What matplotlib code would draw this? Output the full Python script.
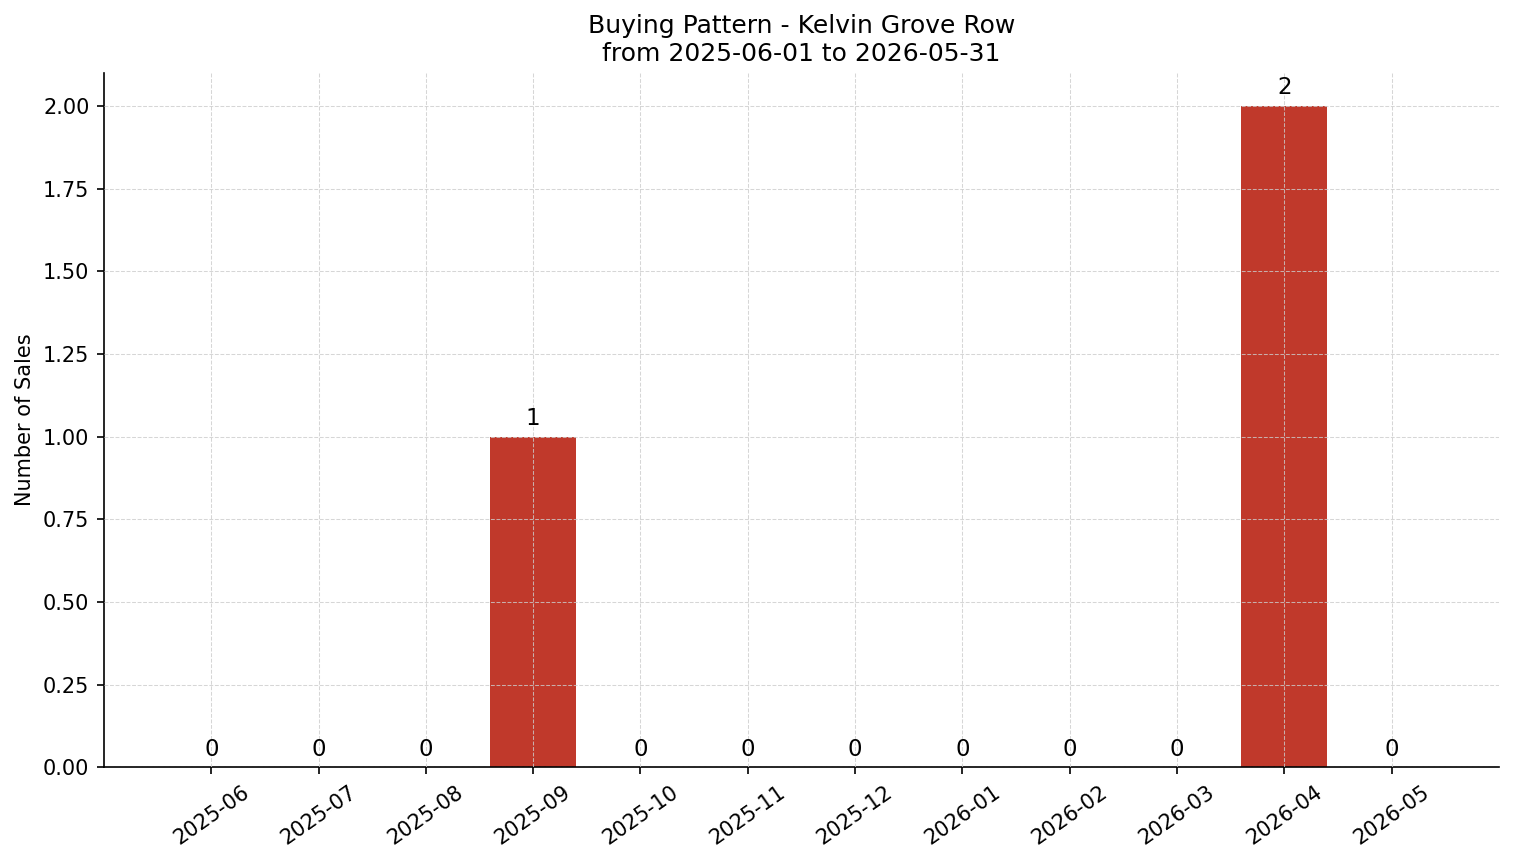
import matplotlib
matplotlib.use("Agg")
import matplotlib.pyplot as plt

# dados mensais
meses = ["2025-06", "2025-07", "2025-08", "2025-09", "2025-10", "2025-11",
         "2025-12", "2026-01", "2026-02", "2026-03", "2026-04", "2026-05"]
vendas = [0, 0, 0, 1, 0, 0, 0, 0, 0, 0, 2, 0]

fig = plt.figure(figsize=(15.14 / 1.5, 8.63 / 1.5), dpi=150)
ax = fig.add_axes([0.0687, 0.111, 0.9213, 0.8044])

x = list(range(len(meses)))
ax.bar(x, vendas, width=0.8, color="#c0392b", zorder=1)
for xi, v in zip(x, vendas):
    ax.text(xi, v + 0.02, str(v), ha="center", va="bottom", fontsize=11, zorder=3)

ax.set_xlim(-1, 12)
ax.set_ylim(0, 2.1)
ax.set_xticks(x)
ax.set_xticklabels(meses, rotation=35, ha="center")
ax.set_yticks([0, 0.25, 0.5, 0.75, 1.0, 1.25, 1.5, 1.75, 2.0])
ax.set_yticklabels([f"{t:.2f}" for t in ax.get_yticks()])
ax.set_ylabel("Number of Sales")
ax.set_title("Buying Pattern - Kelvin Grove Row\nfrom 2025-06-01 to 2026-05-31")
ax.grid(True, linestyle="--", color="#cccccc", alpha=0.8, linewidth=0.5, zorder=2)
ax.set_axisbelow(False)
ax.spines["top"].set_visible(False)
ax.spines["right"].set_visible(False)

fig.savefig("out.png", dpi=150)
